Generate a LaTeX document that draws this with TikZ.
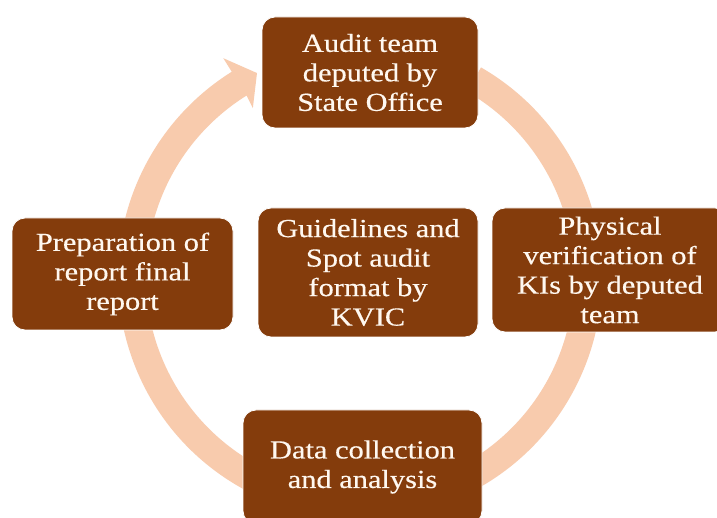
\documentclass[tikz,border=0pt]{standalone}
\usepackage{fontspec}
\newfontfamily\boxfont[FakeStretch=1.17,FakeBold=0.4]{Liberation Serif}
\definecolor{boxbrown}{HTML}{843C0C}
\definecolor{ringpeach}{HTML}{F8CBAD}
\definecolor{boxtext}{HTML}{FFF8F0}
\begin{document}
\begin{tikzpicture}[x=1pt,y=1pt,
  stagebox/.style={rectangle, rounded corners=13pt, fill=boxbrown, draw=white, line width=0.8pt,
    text=boxtext, align=center, inner sep=0pt,
    font=\boxfont\fontsize{26}{29.5}\selectfont}]
\clip (0,0) rectangle (717,518);
\fill[white] (0,0) rectangle (717,518);
% circular arrow ring
\fill[ringpeach, shift={(360,241)}]
  (60:242) arc[start angle=60, end angle=-238, radius=242]
  -- (122:258) -- (116.8:228.5) -- (122.4:200)
  -- (-238:214) arc[start angle=-238, end angle=60, radius=214] -- cycle;
% stages
\node[stagebox, minimum width=216pt, minimum height=111pt] (top) at (370,445.5)
  {Audit team\\deputed by\\State Office};
\node[stagebox, minimum width=221pt, minimum height=112pt] (left) at (122.5,244)
  {Preparation of\\report final\\report};
\node[stagebox, minimum width=220pt, minimum height=129pt] (mid) at (368,245.5)
  {Guidelines and\\Spot audit\\format by\\KVIC};
\node[stagebox, minimum width=236pt, minimum height=124pt] (right) at (610,248)
  {Physical\\verification of\\KIs by deputed\\team};
\node[stagebox, minimum width=239pt, minimum height=114pt] (bottom) at (362.5,51)
  {Data collection\\and analysis};
\end{tikzpicture}
\end{document}
